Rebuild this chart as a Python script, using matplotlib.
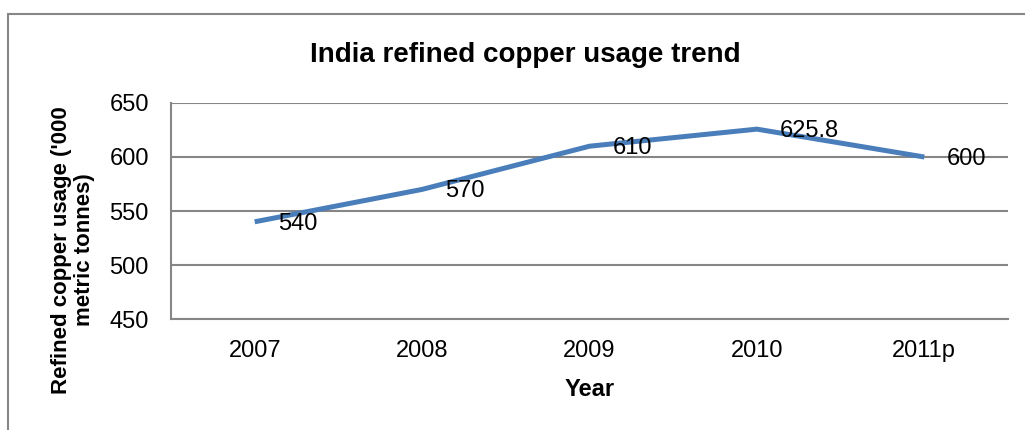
import matplotlib
matplotlib.use("Agg")
import matplotlib.pyplot as plt
from matplotlib.patches import Rectangle

plt.rcParams['font.family'] = ['Liberation Sans Narrow', 'Liberation Sans', 'DejaVu Sans']

###############################################################
# data
###############################################################
years  = ["2007", "2008", "2009", "2010", "2011p"]
usage  = [540, 570, 610, 625.8, 600]
labels = ["540", "570", "610", "625.8", "600"]
yticks = [450, 500, 550, 600, 650]

W, H = 1025, 430
grid_col = "#868686"
line_col = "#4A7EBB"

fig = plt.figure(figsize=(W / 100, H / 100), dpi=100)

# outer chart border (bottom/right run off the picture)
fig.patches.append(Rectangle((8 / W, -0.05), 1.1, (H - 14) / H + 0.05,
                             transform=fig.transFigure, fill=False,
                             edgecolor=grid_col, linewidth=1.5))

# plot area in pixels: left 171, right 1008, top 103, bottom 319
ax = fig.add_axes([171 / W, (H - 319) / H, (1008 - 171) / W, (319 - 103) / H])

x = list(range(len(years)))
ax.plot(x, usage, color=line_col, linewidth=3.6, solid_capstyle="butt", zorder=3)

for xi, yi, lab in zip(x, usage, labels):
    ax.annotate(lab, (xi, yi), xytext=(16.5, -1.5), textcoords="offset points",
                ha="left", va="center", fontsize=17, color="black", zorder=4)

ax.set_xlim(-0.5, len(years) - 0.5)
ax.set_ylim(450, 650)
ax.set_xticks(x)
ax.set_xticklabels(years)
ax.set_yticks(yticks)
ax.tick_params(axis="both", length=0, labelsize=17)
ax.tick_params(axis="y", pad=16)
ax.tick_params(axis="x", pad=15)

ax.yaxis.grid(True, color=grid_col, linewidth=1.5)
ax.set_axisbelow(True)
for side in ["top", "right"]:
    ax.spines[side].set_visible(False)
for side in ["left", "bottom"]:
    ax.spines[side].set_color(grid_col)
    ax.spines[side].set_linewidth(1.5)

fig.text(525 / W, 1 - 55 / H, "India refined copper usage trend",
         ha="center", va="center", fontsize=20, fontweight="bold")
fig.text(590 / W, 1 - 390 / H, "Year",
         ha="center", va="center", fontsize=17, fontweight="bold")
fig.text(73 / W, 1 - 250 / H, "Refined copper usage ('000\nmetric tonnes)",
         ha="center", va="center", rotation=90, fontsize=16, fontweight="bold",
         multialignment="center", linespacing=1.1)

fig.savefig("out.png", dpi=100)
